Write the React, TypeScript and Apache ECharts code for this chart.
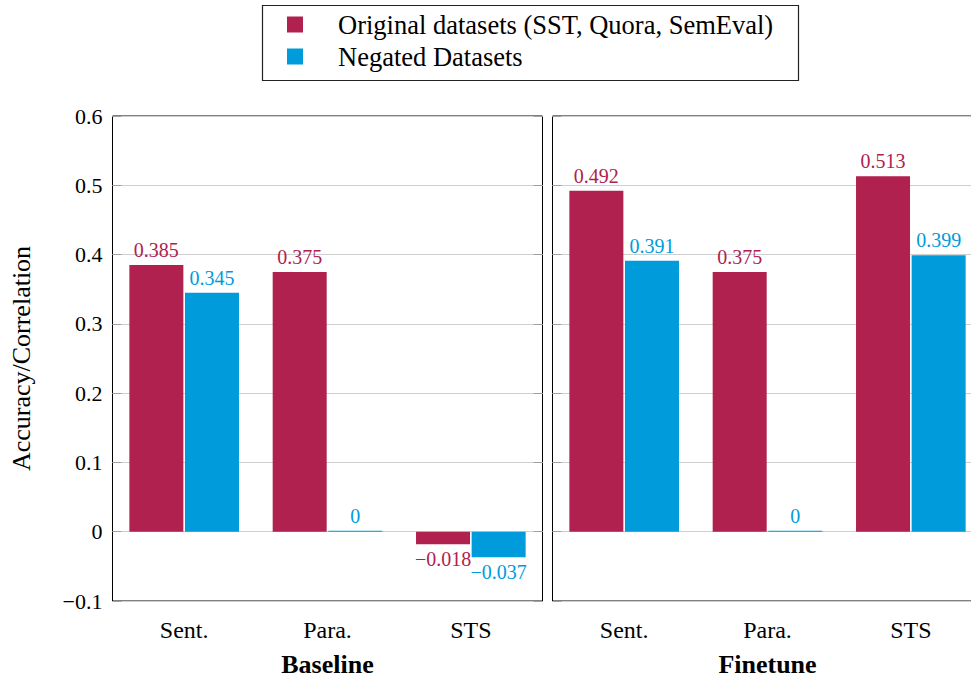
import React, { useEffect, useRef } from "react";
import * as echarts from "echarts";

const categories = ["Sent.", "Para.", "STS"];
const panelNames = ["Baseline", "Finetune"];
const seriesNames = ["Original datasets (SST, Quora, SemEval)", "Negated Datasets"];
const baselineOriginal = [0.385, 0.375, -0.018];
const baselineNegated = [0.345, 0, -0.037];
const finetuneOriginal = [0.492, 0.375, 0.513];
const finetuneNegated = [0.391, 0, 0.399];
const yMin = -0.1;
const yMax = 0.6;
const yStep = 0.1;

const RED = "#B0214F";
const BLUE = "#009BDB";
const SERIF = "Liberation Serif";

const fmt = (v: number) => {
  const r = Math.round(v * 1000) / 1000;
  return r < 0 ? "\u2212" + String(Math.abs(r)) : String(r);
};

export default function App() {
  const ref = useRef<HTMLDivElement>(null);
  useEffect(() => {
    document.body.style.margin = "0";
    document.body.style.overflow = "hidden";
    if (!ref.current) return;
    const chart = echarts.init(ref.current, null, { renderer: "svg" });

    const grids = [
      { left: 112.5, top: 116, width: 430, height: 486 },
      { left: 552.5, top: 116, width: 430, height: 486 },
    ];

    const makeData = (arr: number[]) =>
      arr.map((v) => ({
        value: v,
        label: { position: v < 0 ? "bottom" : "top" },
      }));

    const yAxisBase = (gridIndex: number, position: string, main: boolean, labels: boolean) => ({
      type: "value",
      gridIndex,
      position,
      min: yMin,
      max: yMax,
      interval: yStep,
      axisLine: { show: false },
      axisTick: { show: true, inside: true, length: 9, lineStyle: { color: "#a0a0a0", width: 1 } },
      splitLine: { show: main, lineStyle: { color: "#cfcfcf", width: 1 } },
      axisLabel: {
        show: labels,
        margin: 10,
        fontFamily: SERIF,
        fontSize: 22,
        color: "#000",
        formatter: (v: number) => fmt(Number(v.toFixed(1))),
      },
      name: labels ? "Accuracy/Correlation" : "",
      nameLocation: "middle",
      nameGap: 78,
      nameTextStyle: { fontFamily: SERIF, fontSize: 26, color: "#000" },
    });

    const barSeries = (name: string, data: number[], idx: number, color: string) => ({
      name,
      type: "bar",
      xAxisIndex: idx,
      yAxisIndex: idx,
      data: makeData(data),
      barWidth: 54,
      barGap: "3%",
      barMinHeight: 1,
      itemStyle: { color },
      label: {
        show: true,
        distance: 5,
        color,
        fontFamily: SERIF,
        fontSize: 20,
        formatter: (p: any) => fmt(p.value),
      },
    });

    chart.setOption({
      animation: false,
      backgroundColor: "#fff",
      textStyle: { fontFamily: SERIF },
      graphic: [
        {
          type: "rect",
          shape: { x: 262.5, y: 5.5, width: 536, height: 75 },
          style: { fill: "none", stroke: "#222", lineWidth: 1.2 },
          z: 10,
        },
      ],
      legend: {
        orient: "vertical",
        left: 287,
        top: 11,
        padding: 0,
        icon: "rect",
        itemWidth: 16,
        itemHeight: 16,
        itemGap: 5,
        data: seriesNames,
        textStyle: { fontFamily: SERIF, fontSize: 26.5, color: "#000", padding: [0, 0, 0, 30] },
      },
      grid: grids.map((g) => ({
        ...g,
        show: true,
        borderColor: "#000",
        borderWidth: 1,
        backgroundColor: "transparent",
        containLabel: false,
      })),
      xAxis: [0, 1].map((i) => ({
        type: "category",
        gridIndex: i,
        data: categories,
        axisLine: { show: false },
        axisTick: { show: false },
        axisLabel: { fontFamily: SERIF, fontSize: 24, color: "#000", margin: 17 },
        name: panelNames[i],
        nameLocation: "middle",
        nameGap: 50,
        nameTextStyle: { fontFamily: SERIF, fontSize: 26, fontWeight: "bold", color: "#000" },
      })),
      yAxis: [
        yAxisBase(0, "left", true, true),
        yAxisBase(1, "left", true, false),
        yAxisBase(0, "right", false, false),
        yAxisBase(1, "right", false, false),
      ],
      series: [
        barSeries(seriesNames[0], baselineOriginal, 0, RED),
        barSeries(seriesNames[1], baselineNegated, 0, BLUE),
        barSeries(seriesNames[0], finetuneOriginal, 1, RED),
        barSeries(seriesNames[1], finetuneNegated, 1, BLUE),
      ],
    });

    return () => chart.dispose();
  }, []);

  return (
    <div style={{ width: 971, height: 682, overflow: "hidden", position: "relative" }}>
      <div ref={ref} style={{ width: 1000, height: 682 }} />
    </div>
  );
}
